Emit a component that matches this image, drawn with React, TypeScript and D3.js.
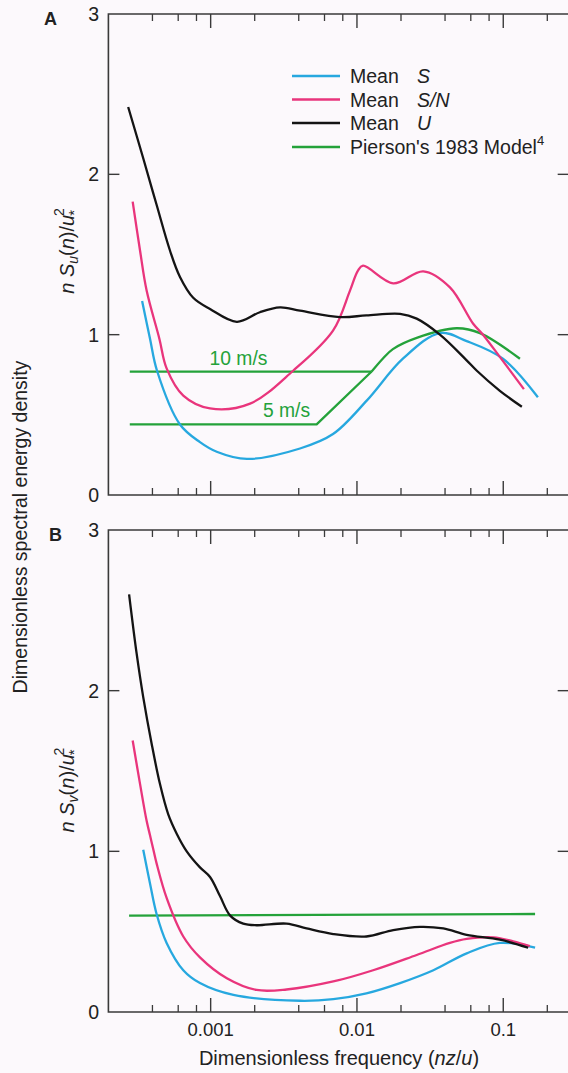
import React from "react";
import * as d3 from "d3";

// ---------- data ----------
// Panel A (u component)
const fA_meanU = [0.000273, 0.000346, 0.000427, 0.000527, 0.000617, 0.00076, 0.00099, 0.00151, 0.00217, 0.00298, 0.00408, 0.00764, 0.0116, 0.0197, 0.0256, 0.0369, 0.0562, 0.066, 0.0948, 0.134];
const vA_meanU = [2.42, 2.10, 1.81, 1.525, 1.36, 1.23, 1.16, 1.08, 1.14, 1.17, 1.15, 1.11, 1.12, 1.13, 1.10, 1.00, 0.84, 0.775, 0.65, 0.55];

const fA_meanSN = [0.000293, 0.000329, 0.000365, 0.000446, 0.0005, 0.00065, 0.00099, 0.00186, 0.00366, 0.00686, 0.00896, 0.01016, 0.011, 0.0177, 0.0284, 0.0432, 0.0621, 0.0727, 0.095, 0.1384];
const vA_meanSN = [1.83, 1.525, 1.275, 0.975, 0.79, 0.62, 0.54, 0.57, 0.775, 1.025, 1.275, 1.40, 1.43, 1.32, 1.395, 1.295, 1.07, 1.0, 0.86, 0.66];

const fA_meanS = [0.00034, 0.000385, 0.00043, 0.000617, 0.000845, 0.0011, 0.00177, 0.00408, 0.00686, 0.0117, 0.0206, 0.0369, 0.0562, 0.0995, 0.1725];
const vA_meanS = [1.21, 0.975, 0.775, 0.44, 0.33, 0.27, 0.225, 0.29, 0.38, 0.59, 0.85, 1.01, 0.96, 0.85, 0.61];

// Pierson model, panel A
const fA_p10 = [0.00028, 0.0126];
const vA_p10 = [0.77, 0.77];
const fA_p5 = [0.00028, 0.0053, 0.0126];
const vA_p5 = [0.44, 0.44, 0.77];
const fA_pHigh = [0.0126, 0.015, 0.0176, 0.0256, 0.048, 0.0693, 0.13];
const vA_pHigh = [0.77, 0.85, 0.91, 0.98, 1.04, 1.01, 0.85];

// Panel B (v component)
const fB_meanU = [0.000277, 0.000312, 0.000346, 0.000395, 0.00045, 0.000513, 0.000586, 0.000686, 0.000845, 0.00099, 0.00116, 0.00136, 0.00167, 0.00206, 0.0033, 0.00453, 0.00689, 0.0116, 0.0177, 0.027, 0.0389, 0.0562, 0.0948, 0.148];
const vB_meanU = [2.60, 2.23, 1.96, 1.67, 1.42, 1.23, 1.11, 1.0, 0.90, 0.84, 0.72, 0.60, 0.55, 0.54, 0.55, 0.52, 0.485, 0.47, 0.51, 0.53, 0.52, 0.48, 0.45, 0.40];

const fB_meanSN = [0.000293, 0.000329, 0.000365, 0.000385, 0.000406, 0.000427, 0.0005, 0.00065, 0.000845, 0.00129, 0.00206, 0.0033, 0.00689, 0.0129, 0.0256, 0.0432, 0.0562, 0.0855, 0.117, 0.152];
const vB_meanSN = [1.69, 1.42, 1.19, 1.10, 1.01, 0.925, 0.71, 0.47, 0.34, 0.21, 0.137, 0.14, 0.19, 0.26, 0.355, 0.43, 0.455, 0.465, 0.44, 0.41];

const fB_meanS = [0.000346, 0.000385, 0.000427, 0.0005, 0.00065, 0.000845, 0.00143, 0.00408, 0.00689, 0.0116, 0.0197, 0.0333, 0.0562, 0.0948, 0.165];
const vB_meanS = [1.01, 0.80, 0.61, 0.43, 0.26, 0.18, 0.106, 0.07, 0.08, 0.116, 0.18, 0.26, 0.365, 0.43, 0.40];

const fB_pierson = [0.000277, 0.165];
const vB_pierson = [0.60, 0.61];

const xMajorTicks = [0.001, 0.01, 0.1];
const xTickLabels = ["0.001", "0.01", "0.1"];
const xMinorTicks = [0.0004, 0.0006, 0.0008, 0.002, 0.004, 0.006, 0.008, 0.02, 0.04, 0.06, 0.08, 0.2];
const yTicks = [0, 1, 2, 3];

const legendLabels = ["Mean", "Mean", "Mean", "Pierson's 1983 Model"];
const legendItalic = ["S", "S/N", "U", ""];

// ---------- style ----------
const BLUE = "#27a8df";
const PINK = "#e9357c";
const BLACK = "#141414";
const GREEN = "#24a23a";
const AXIS = "#3a3a3a";
const FONT = "'Liberation Sans', Arial, Helvetica, sans-serif";
const W = 568;
const H = 1073;

const x = d3.scaleLog().domain([0.0002, 0.28]).range([108.4, 108.4 + 146.3 * Math.log10(1400)]);

const zip = (f: number[], v: number[]) => f.map((d, i) => [d, v[i]] as [number, number]);

function Panel({ top, bottom, label, labelX, labelY, ylabelCenter, sub, series, children }: any) {
  const y = d3.scaleLinear().domain([0, 3]).range([bottom, top]);
  const smooth = d3.line<[number, number]>().x(d => x(d[0])).y(d => y(d[1])).curve(d3.curveCatmullRom.alpha(0.5));
  const straight = d3.line<[number, number]>().x(d => x(d[0])).y(d => y(d[1]));
  const [x0, x1] = x.range();
  return (
    <g>
      <path d={`M${x1 + 2},${top}H${x0}V${bottom}H${x1 + 2}`} fill="none" stroke={AXIS} strokeWidth={1.6} />
      {xMajorTicks.map(t => (
        <g key={"M" + t}>
          <line x1={x(t)} x2={x(t)} y1={bottom} y2={bottom - 14} stroke={AXIS} strokeWidth={1.4} />
          <line x1={x(t)} x2={x(t)} y1={top} y2={top + 14} stroke={AXIS} strokeWidth={1.4} />
        </g>
      ))}
      {xMinorTicks.map(t => (
        <g key={"m" + t}>
          <line x1={x(t)} x2={x(t)} y1={bottom} y2={bottom - 7} stroke={AXIS} strokeWidth={1.3} />
          <line x1={x(t)} x2={x(t)} y1={top} y2={top + 7} stroke={AXIS} strokeWidth={1.3} />
        </g>
      ))}
      {yTicks.map(t => (
        <g key={"y" + t}>
          {t > 0 && t < 3 && <line x1={x0} x2={x0 + 11} y1={y(t)} y2={y(t)} stroke={AXIS} strokeWidth={1.4} />}
          {t > 0 && t < 3 && <line x1={x1 - 11} x2={x1} y1={y(t)} y2={y(t)} stroke={AXIS} strokeWidth={1.4} />}
          <text x={99} y={y(t)} dy="0.36em" textAnchor="end" fontSize={19.5} fill="#222" fontFamily={FONT}>{t}</text>
        </g>
      ))}
      <text x={labelX} y={labelY} fontSize={18} fontWeight="bold" fill="#222" fontFamily={FONT}>{label}</text>
      <text transform={`translate(74,${ylabelCenter}) rotate(-90)`} textAnchor="middle" fontSize={20} fill="#222" fontFamily={FONT}>
        <tspan fontStyle="italic">n</tspan>
        <tspan> </tspan>
        <tspan fontStyle="italic">S</tspan>
        <tspan fontStyle="italic" fontSize={14} dy={4}>{sub}</tspan>
        <tspan dy={-4}>(</tspan>
        <tspan fontStyle="italic">n</tspan>
        <tspan>)/</tspan>
        <tspan fontStyle="italic">u</tspan>
        <tspan fontSize={15} dy={5} dx={-1}>*</tspan>
        <tspan fontSize={14} dy={-15} dx={-6}>2</tspan>
      </text>
      {series.map((s: any, i: number) => (
        <path key={i} d={(s.linear ? straight : smooth)(zip(s.f, s.v)) || ""} fill="none" stroke={s.color} strokeWidth={2.3} strokeLinejoin="round" />
      ))}
      {children && children(y)}
    </g>
  );
}

export default function App() {
  const legendY = [76, 99.5, 123, 147];
  const legendColors = [BLUE, PINK, BLACK, GREEN];
  return (
    <svg width={W} height={H} style={{ position: "absolute", left: 0, top: 0, background: "#fcf9fc" }}>
      <rect x={0} y={0} width={W} height={H} fill="#fcf9fc" />
      <Panel
        top={14}
        bottom={495}
        label="A"
        labelX={44}
        labelY={25}
        ylabelCenter={251}
        sub="u"
        series={[
          { f: fA_p10, v: vA_p10, color: GREEN, linear: true },
          { f: fA_p5, v: vA_p5, color: GREEN, linear: true },
          { f: fA_pHigh, v: vA_pHigh, color: GREEN },
          { f: fA_meanS, v: vA_meanS, color: BLUE },
          { f: fA_meanSN, v: vA_meanSN, color: PINK },
          { f: fA_meanU, v: vA_meanU, color: BLACK },
        ]}
      >
        {(y: any) => (
          <g fontFamily={FONT} fontSize={19.3} fill={GREEN}>
            <text x={x(0.00155)} y={y(0.77) - 7} textAnchor="middle">10 m/s</text>
            <text x={x(0.0033)} y={y(0.44) - 7} textAnchor="middle">5 m/s</text>
          </g>
        )}
      </Panel>
      <Panel
        top={530}
        bottom={1012}
        label="B"
        labelX={49}
        labelY={541}
        ylabelCenter={790}
        sub="v"
        series={[
          { f: fB_pierson, v: vB_pierson, color: GREEN, linear: true },
          { f: fB_meanS, v: vB_meanS, color: BLUE },
          { f: fB_meanSN, v: vB_meanSN, color: PINK },
          { f: fB_meanU, v: vB_meanU, color: BLACK },
        ]}
      />
      {xMajorTicks.map((t, i) => (
        <text key={t} x={x(t)} y={1036} textAnchor="middle" fontSize={18.5} fill="#222" fontFamily={FONT}>{xTickLabels[i]}</text>
      ))}
      <text x={339} y={1065} textAnchor="middle" fontSize={20} fill="#222" fontFamily={FONT}>
        Dimensionless frequency (<tspan fontStyle="italic">nz</tspan>/<tspan fontStyle="italic">u</tspan>)
      </text>
      <text transform="translate(27,527) rotate(-90)" textAnchor="middle" fontSize={19.5} fill="#222" fontFamily={FONT}>
        Dimensionless spectral energy density
      </text>
      <g fontFamily={FONT} fontSize={19.5} fill="#222">
        {legendLabels.map((l, i) => (
          <g key={i}>
            <line x1={292} x2={340} y1={legendY[i]} y2={legendY[i]} stroke={legendColors[i]} strokeWidth={2.3} />
            <text x={350} y={legendY[i] + 7}>
              {l}
              {i === 3 && <tspan fontSize={13} dy={-9}>4</tspan>}
            </text>
            {legendItalic[i] && <text x={417} y={legendY[i] + 7} fontStyle="italic">{legendItalic[i]}</text>}
          </g>
        ))}
      </g>
    </svg>
  );
}
